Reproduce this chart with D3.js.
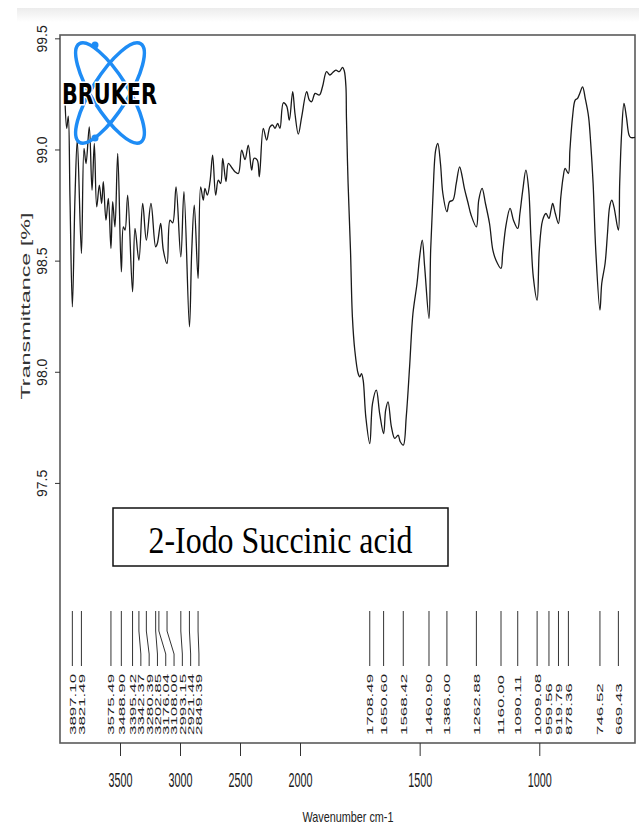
<!DOCTYPE html>
<html>
<head>
<meta charset="utf-8">
<script src="https://cdn.jsdelivr.net/npm/d3@7/dist/d3.min.js"></script>
<style>
  html, body { margin: 0; padding: 0; background: #fff; }
  svg { display: block; }
</style>
</head>
<body>
<svg id="chart" width="639" height="827"></svg>
<script>
// IR spectrum of 2-iodo succinic acid (transmittance vs wavenumber)
const wavenumbers = [
  3958, 3944, 3931, 3917, 3897, 3875, 3856, 3821.5, 3800, 3783, 3756, 3733, 3714, 3694,
  3672, 3653, 3639, 3617, 3597, 3575.5, 3561, 3542, 3519, 3488.9, 3472, 3458, 3436,
  3395.4, 3375, 3342.4, 3311, 3280.4, 3242, 3202.9, 3189, 3161, 3139, 3108, 3083, 3061,
  3033, 2993.2, 2967, 2921.4, 2903, 2881, 2849.4, 2828, 2806, 2792, 2772, 2750, 2728,
  2703, 2681, 2661, 2644, 2617, 2597, 2569, 2542, 2514, 2486, 2458, 2431, 2403, 2383,
  2356, 2339, 2306, 2278, 2250, 2228, 2208, 2186, 2167, 2139, 2111, 2089, 2061, 2042,
  2014, 1993, 1972, 1961, 1951, 1937, 1919, 1906, 1889, 1875, 1864, 1850, 1836, 1822,
  1815, 1808, 1806, 1799, 1789, 1781, 1771, 1757, 1750, 1743, 1736, 1725, 1708.5, 1697,
  1681, 1667, 1650.6, 1642, 1632, 1618, 1604, 1590, 1581, 1568.4, 1556, 1542, 1528,
  1511, 1500, 1489, 1479, 1460.9, 1454, 1444, 1433, 1424, 1413, 1403, 1386, 1375, 1361,
  1347, 1333, 1322, 1313, 1299, 1285, 1262.9, 1253, 1239, 1225, 1208, 1194, 1181, 1160,
  1153, 1139, 1122, 1108, 1090.1, 1081, 1069, 1056, 1044, 1035, 1025, 1009.1, 1000, 986,
  972, 959.6, 951, 944, 933, 919.8, 910, 900, 892, 878.4, 872, 861, 850, 840, 831, 819,
  808, 794, 785, 775, 764, 746.5, 739, 725, 715, 706, 697, 688, 669.4, 664, 656, 646,
  636, 625, 618, 600
];
const transmittance = [
  99.215, 99.095, 99.15, 98.787, 98.292, 98.787, 99.042, 98.532, 99.005, 98.937, 99.102,
  98.817, 99.027, 98.742, 98.84, 98.757, 98.855, 98.682, 98.78, 98.555, 98.765, 98.652,
  98.982, 98.45, 98.652, 98.637, 98.795, 98.36, 98.645, 98.502, 98.757, 98.592, 98.757,
  98.562, 98.577, 98.667, 98.547, 98.487, 98.682, 98.67, 98.832, 98.517, 98.81, 98.202,
  98.532, 98.75, 98.42, 98.832, 98.772, 98.825, 98.795, 98.855, 98.975, 98.795, 98.862,
  98.847, 98.96, 98.855, 98.937, 98.919, 98.90, 98.892, 98.997, 98.955, 99.02, 98.907,
  98.96, 98.952, 98.877, 99.095, 99.042, 99.102, 99.11, 99.095, 99.117, 99.095, 99.21,
  99.195, 99.132, 99.26, 99.162, 99.069, 99.147, 99.26, 99.222, 99.215, 99.252, 99.245,
  99.282, 99.35, 99.335, 99.345, 99.357, 99.35, 99.369, 99.354, 99.282, 99.147, 98.847,
  98.547, 98.247, 98.097, 97.992, 97.977, 97.992, 97.962, 97.797, 97.677, 97.857, 97.917,
  97.812, 97.722, 97.827, 97.865, 97.752, 97.70, 97.715, 97.685, 97.67, 97.797, 98.022,
  98.262, 98.397, 98.517, 98.592, 98.472, 98.24, 98.547, 98.802, 98.997, 99.027, 98.937,
  98.802, 98.72, 98.765, 98.772, 98.847, 98.922, 98.877, 98.825, 98.765, 98.705, 98.652,
  98.772, 98.825, 98.757, 98.667, 98.547, 98.502, 98.465, 98.532, 98.66, 98.735, 98.682,
  98.645, 98.712, 98.817, 98.907, 98.817, 98.607, 98.427, 98.322, 98.547, 98.682, 98.712,
  98.69, 98.727, 98.757, 98.712, 98.667, 98.787, 98.877, 98.915, 98.892, 98.997, 99.147,
  99.222, 99.23, 99.252, 99.282, 99.23, 99.147, 99.027, 98.847, 98.547, 98.277, 98.397,
  98.487, 98.622, 98.742, 98.772, 98.742, 98.637, 98.847, 99.072, 99.207, 99.147, 99.065,
  99.054, 99.054
];
// Picked peaks
const peakLabels = [
  "3897.10", "3821.49", "3575.49", "3488.90", "3395.42", "3342.37", "3280.39", "3202.85",
  "3176.04", "3108.00", "2993.15", "2921.44", "2849.39", "1708.49", "1650.60", "1568.42",
  "1460.90", "1386.00", "1262.88", "1160.00", "1090.11", "1009.08", "959.56", "919.79",
  "878.36", "746.52", "669.43"
];
const xTicks = [3500, 3000, 2500, 2000, 1500, 1000];
const yTicks = [97.5, 98.0, 98.5, 99.0, 99.5];
const sampleName = "2-Iodo Succinic acid";

const svg = d3.select("#chart");
const L = 60, T = 35, R = 635, B = 743;

// faint band at top of the page
const defs = svg.append("defs");
const band = defs.append("linearGradient").attr("id", "band").attr("x1", 0).attr("y1", 0).attr("x2", 0).attr("y2", 1);
band.append("stop").attr("offset", "0%").attr("stop-color", "#ececec");
band.append("stop").attr("offset", "100%").attr("stop-color", "#ffffff");
svg.append("rect").attr("x", 17).attr("y", 8).attr("width", 622).attr("height", 14).attr("fill", "url(#band)");

// Wavenumber axis is compressed by half above 2000 cm-1
const x = d3.scaleLinear().domain([4000, 2000, 600]).range([L, 300, R]);
const y = d3.scaleLinear().domain([96.33, 99.515]).range([B, T]);

// plot frame
svg.append("rect").attr("x", L).attr("y", T).attr("width", R - L).attr("height", B - T)
  .attr("fill", "none").attr("stroke", "#5a5a5a").attr("stroke-width", 1.6);

// x axis
const xAxis = svg.append("g").attr("transform", `translate(0,${B})`)
  .call(d3.axisBottom(x).tickValues(xTicks).tickSize(13).tickFormat(d3.format("d")));
xAxis.select(".domain").remove();
xAxis.selectAll(".tick line").attr("stroke", "#333");
xAxis.selectAll(".tick text")
  .attr("y", 44).attr("dy", null)
  .attr("font-family", "Liberation Sans, Arial, sans-serif")
  .attr("font-size", 20).attr("fill", "#1a1a1a")
  .attr("textLength", 24).attr("lengthAdjust", "spacingAndGlyphs");

svg.append("text").attr("x", 348).attr("y", 821.5).attr("text-anchor", "middle")
  .attr("font-family", "Liberation Sans, Arial, sans-serif").attr("font-size", 14.5)
  .attr("fill", "#222").attr("textLength", 91).attr("lengthAdjust", "spacingAndGlyphs")
  .text("Wavenumber cm-1");

// y axis
const yAxis = svg.append("g").attr("transform", `translate(${L},0)`)
  .call(d3.axisLeft(y).tickValues(yTicks).tickSize(5).tickFormat(d3.format(".1f")));
yAxis.select(".domain").remove();
yAxis.selectAll(".tick line").attr("stroke", "#333");
yAxis.selectAll(".tick text")
  .attr("x", null).attr("dy", null)
  .attr("transform", "translate(-13.5,0) rotate(-90)")
  .attr("text-anchor", "middle")
  .attr("font-family", "Liberation Sans, Arial, sans-serif")
  .attr("font-size", 14).attr("fill", "#222");

svg.append("text").attr("transform", "translate(29.5,306) rotate(-90)")
  .attr("text-anchor", "middle")
  .attr("font-family", "Liberation Sans, Arial, sans-serif").attr("font-size", 12)
  .attr("fill", "#333").attr("textLength", 187).attr("lengthAdjust", "spacingAndGlyphs")
  .text("Transmittance [%]");

// spectrum
const pts = wavenumbers.map((w, i) => [w, transmittance[i]]);
const line = d3.line().x(d => x(d[0])).y(d => y(d[1])).curve(d3.curveCatmullRom.alpha(0.5));
svg.append("path").datum(pts).attr("d", line)
  .attr("fill", "none").attr("stroke", "#1a1a1a").attr("stroke-width", 1.3)
  .attr("stroke-linejoin", "round");

// peak markers with spread-out labels
const peaks = peakLabels.map(s => ({ label: s, wn: parseFloat(s) }))
  .sort((a, b) => b.wn - a.wn);
let prev = -Infinity;
peaks.forEach(p => {
  p.x = x(p.wn);
  p.lx = Math.max(p.x, prev + 8.3);
  prev = p.lx;
});
const pk = svg.append("g");
pk.selectAll("path").data(peaks).join("path")
  .attr("d", p => `M${p.x},611V631L${p.lx},654V666`)
  .attr("fill", "none").attr("stroke", "#333").attr("stroke-width", 1);
pk.selectAll("text").data(peaks).join("text")
  .attr("transform", p => `translate(${p.lx + 3.4},735) rotate(-90) scale(1.78,1)`)
  .attr("font-family", "Liberation Sans, Arial, sans-serif")
  .attr("font-size", 9.5).attr("fill", "#222")
  .text(p => p.label);

// sample name box
svg.append("rect").attr("x", 113).attr("y", 508).attr("width", 335).attr("height", 58)
  .attr("fill", "#fff").attr("stroke", "#111").attr("stroke-width", 1.5);
svg.append("text").attr("x", 280.5).attr("y", 553).attr("text-anchor", "middle")
  .attr("font-family", "Liberation Serif, Times New Roman, serif").attr("font-size", 37)
  .attr("fill", "#000").attr("textLength", 264).attr("lengthAdjust", "spacingAndGlyphs")
  .text(sampleName);

// Bruker logo
const logo = svg.append("g");
[-32, 32].forEach(a => {
  logo.append("ellipse").attr("cx", 0).attr("cy", 0).attr("rx", 18).attr("ry", 58)
    .attr("transform", `translate(110,93) rotate(${a})`)
    .attr("fill", "none").attr("stroke", "#1e8cf5").attr("stroke-width", 3.5);
});
logo.append("circle").attr("cx", 95).attr("cy", 45).attr("r", 3.5).attr("fill", "#1e8cf5");
logo.append("circle").attr("cx", 95).attr("cy", 138).attr("r", 3.5).attr("fill", "#1e8cf5");
logo.append("text").attr("x", 62).attr("y", 104)
  .attr("font-family", "DejaVu Sans Condensed, DejaVu Sans, sans-serif").attr("font-weight", "bold")
  .attr("font-size", 29).attr("fill", "#000")
  .attr("stroke", "#fff").attr("stroke-width", 3).attr("paint-order", "stroke")
  .attr("textLength", 95).attr("lengthAdjust", "spacingAndGlyphs")
  .text("BRUKER");
</script>
</body>
</html>
